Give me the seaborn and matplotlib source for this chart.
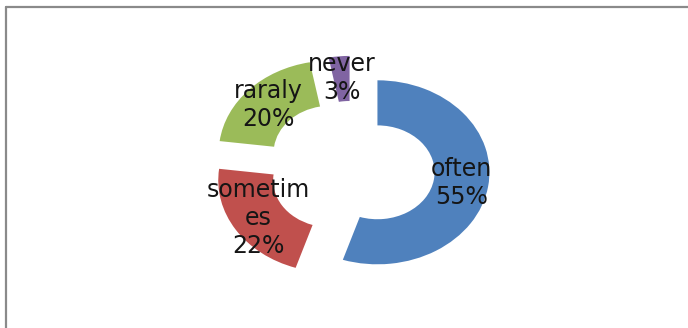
import matplotlib
matplotlib.use("Agg")
import matplotlib.pyplot as plt
from matplotlib.lines import Line2D
import seaborn as sns

# Survey answers and their shares (percent)
categories = ["often", "sometimes", "raraly", "never"]
label_texts = ["often", "sometim\nes", "raraly", "never"]
shares = [55, 22, 20, 3]
colors = ["#4F81BD", "#C0504D", "#9BBB59", "#8064A2"]
explode = [0.23, 0.23, 0.26, 0.23]

sns.set_theme(style="white")
plt.rcParams["font.family"] = ["DejaVu Sans"]

W, H = 688, 328
fig = plt.figure(figsize=(W / 100, H / 100), dpi=100)
ax = fig.add_axes([0, 0, 1, 1])

labels = [f"{t}\n{v}%" for t, v in zip(label_texts, shares)]
wedges, texts = ax.pie(
    shares,
    labels=labels,
    colors=colors,
    startangle=90,
    counterclock=False,
    explode=explode,
    labeldistance=0.76,
    wedgeprops=dict(width=0.49, edgecolor="none", linewidth=0),
    textprops=dict(fontsize=17, color="#151515", ha="center", va="center",
                   multialignment="center", linespacing=1.22),
)

# Stretched ellipse: 112 px horizontal radius, 92 px vertical radius
rx, ry = 112.0, 92.0
cx_px, cy_px = 352.0, 169.0
ax.set_aspect("auto")
ax.set_xlim(-cx_px / rx, (W - cx_px) / rx)
ax.set_ylim(-(H - cy_px) / ry, cy_px / ry)
ax.axis("off")

# Chart-area border (top and left edges visible)
x0, y0 = 5.5 / W, 1 - 6.5 / H
fig.add_artist(Line2D([x0, 1.0], [y0, y0], transform=fig.transFigure,
                      color="#8a8a8a", linewidth=1.6))
fig.add_artist(Line2D([x0, x0], [y0, 0.0], transform=fig.transFigure,
                      color="#8a8a8a", linewidth=1.6))

fig.savefig("out.png", dpi=100, facecolor="white")
